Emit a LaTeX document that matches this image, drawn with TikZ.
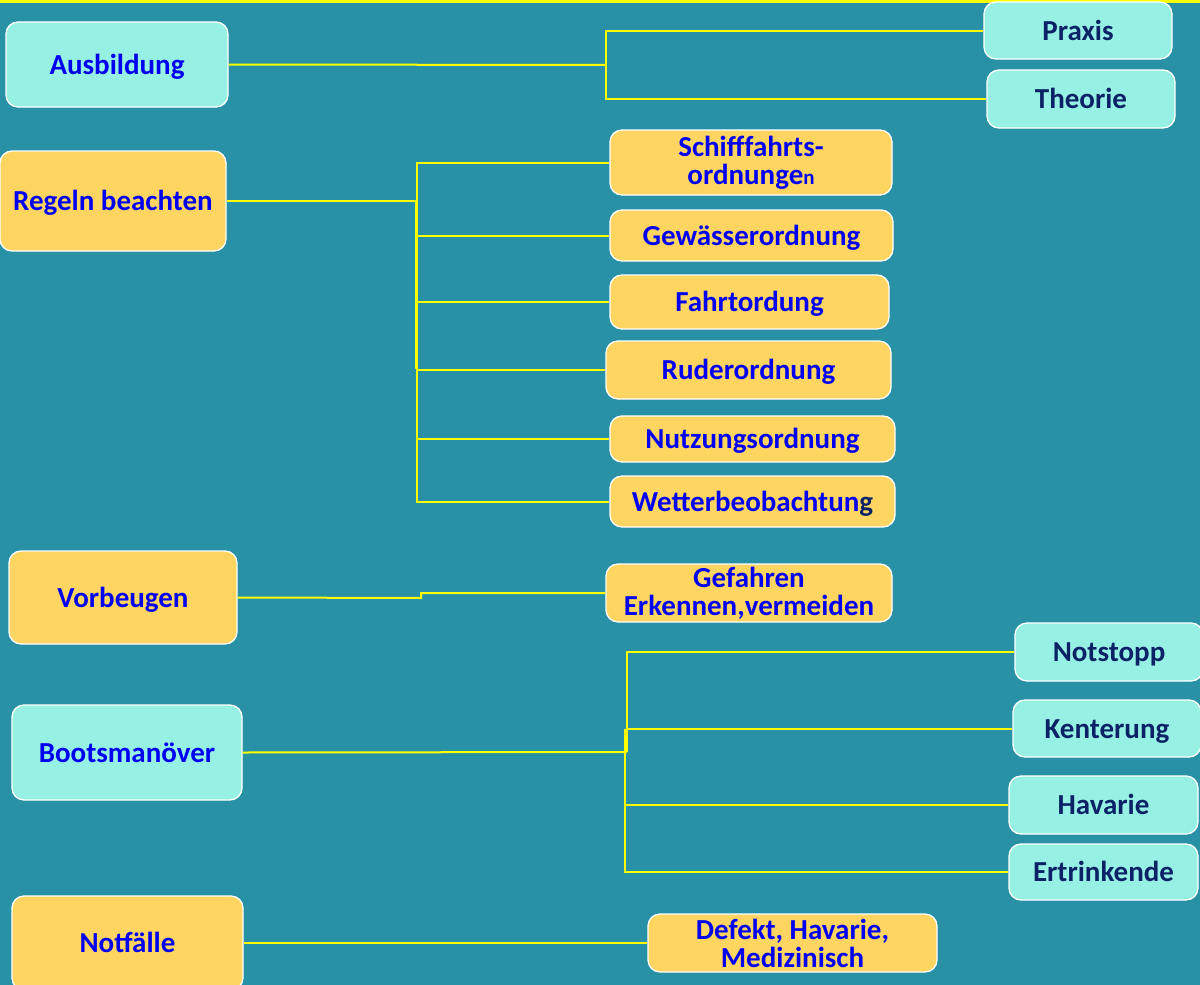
\documentclass[tikz,border=0pt]{standalone}
\usepackage{fontspec}
\setmainfont{Carlito}
\definecolor{bg}{HTML}{2891A5}
\definecolor{cy}{HTML}{96F0E3}
\definecolor{og}{HTML}{FFD561}
\definecolor{tb}{HTML}{0000F0}
\definecolor{tn}{HTML}{0B2366}
\definecolor{yl}{HTML}{FFFF00}
\tikzset{
  box/.style={draw=white, line width=1.3pt, rounded corners=12pt, inner sep=0pt, align=center,
     font=\fontsize{29}{29}\selectfont\bfseries},
  one/.style={text height=24pt, text depth=5pt},
  cbox/.style={box, fill=cy},
  obox/.style={box, fill=og},
  blu/.style={text=tb},
  nav/.style={text=tn},
  conn/.style={draw=yl, line width=2pt},
}
\begin{document}
\begin{tikzpicture}[x=1pt,y=-1pt]
\fill[bg] (0,0) rectangle (1200,985);
\useasboundingbox (0,0) rectangle (1200,985);
\fill[yl] (0,0) rectangle (1200,2.5);
\coordinate (j1) at (606,65);
\coordinate (j2) at (417,201);
\coordinate (j3) at (421,598);
\coordinate (j4) at (627,752);
\coordinate (j5) at (445,943);
% left column
\node[cbox,blu,one,minimum width=222,minimum height=85] (ausb) at (117,64.5) {Ausbildung};
\node[obox,blu,one,minimum width=226,minimum height=100] (regeln) at (113,201) {Regeln beachten};
\node[obox,blu,one,minimum width=228,minimum height=93] (vorb) at (123,597.5) {Vorbeugen};
\node[cbox,blu,one,minimum width=230,minimum height=95] (boot) at (127,752.5) {Bootsmanöver};
\node[obox,blu,one,minimum width=231,minimum height=94] (notf) at (127.5,943) {Notfälle};
% right: Ausbildung
\node[cbox,nav,one,minimum width=188,minimum height=57] (praxis) at (1078,30.5) {Praxis};
\node[cbox,nav,one,minimum width=188,minimum height=58] (theorie) at (1081,99) {Theorie};
% Regeln children
\node[obox,blu,minimum width=282,minimum height=65] (schiff) at (751,162.5) {Schifffahrts-\\[-1pt]ordnunge{\fontsize{21}{21}\selectfont n}};
\node[obox,blu,one,minimum width=283,minimum height=51] (gew) at (751.5,235.5) {Gewässerordnung};
\node[obox,blu,one,minimum width=279,minimum height=54] (fahrt) at (749.5,302) {Fahrtordung};
\node[obox,blu,one,minimum width=285,minimum height=58] (ruder) at (748.5,370) {Ruderordnung};
\node[obox,blu,one,minimum width=285,minimum height=46] (nutz) at (752.5,439) {Nutzungsordnung};
\node[obox,blu,one,minimum width=285,minimum height=51] (wetter) at (752.5,501.5) {Wetterbeobachtun\textcolor{tn}{g}};
% Vorbeugen child
\node[obox,blu,minimum width=286,minimum height=58] (gef) at (749,593) {Gefahren\\[-1pt]Erkennen,vermeiden};
% Bootsmanoever children
\node[cbox,nav,one,minimum width=188,minimum height=58] (notst) at (1109,652) {Notstopp};
\node[cbox,nav,one,minimum width=188,minimum height=57] (kent) at (1107,728.5) {Kenterung};
\node[cbox,nav,one,minimum width=189,minimum height=58] (hav) at (1103.5,805) {Havarie};
\node[cbox,nav,one,minimum width=189,minimum height=56] (ertr) at (1103.5,872) {Ertrinkende};
% Notfaelle child
\node[obox,blu,minimum width=289,minimum height=58] (def) at (792.5,943) {Defekt, Havarie,\\[-1pt]Medizinisch};
% connectors
\draw[conn] (ausb.east) -- (j1);
\draw[conn] (j1) |- (praxis.west);
\draw[conn] (j1) |- (theorie.west);
\draw[conn] (regeln.east) -- (j2);
\foreach \t in {schiff,gew,fahrt,ruder,nutz,wetter}{\draw[conn] (j2) |- (\t.west);}
\draw[conn] (j2) -- ++(-1.5,0) -- ++(0,168);
\draw[conn] (vorb.east) -- (j3) |- (gef.west);
\draw[conn] (boot.east) -- (j4);
\draw[conn] (j4) |- (notst.west);
\draw[conn] (j4) |- (kent.west);
\draw[conn] (j4) ++(-2,-23.5) |- (hav.west);
\draw[conn] (j4) ++(-2,-23.5) |- (ertr.west);
\draw[conn] (notf.east) -- (j5) -- (def.west);
\end{tikzpicture}
\end{document}
